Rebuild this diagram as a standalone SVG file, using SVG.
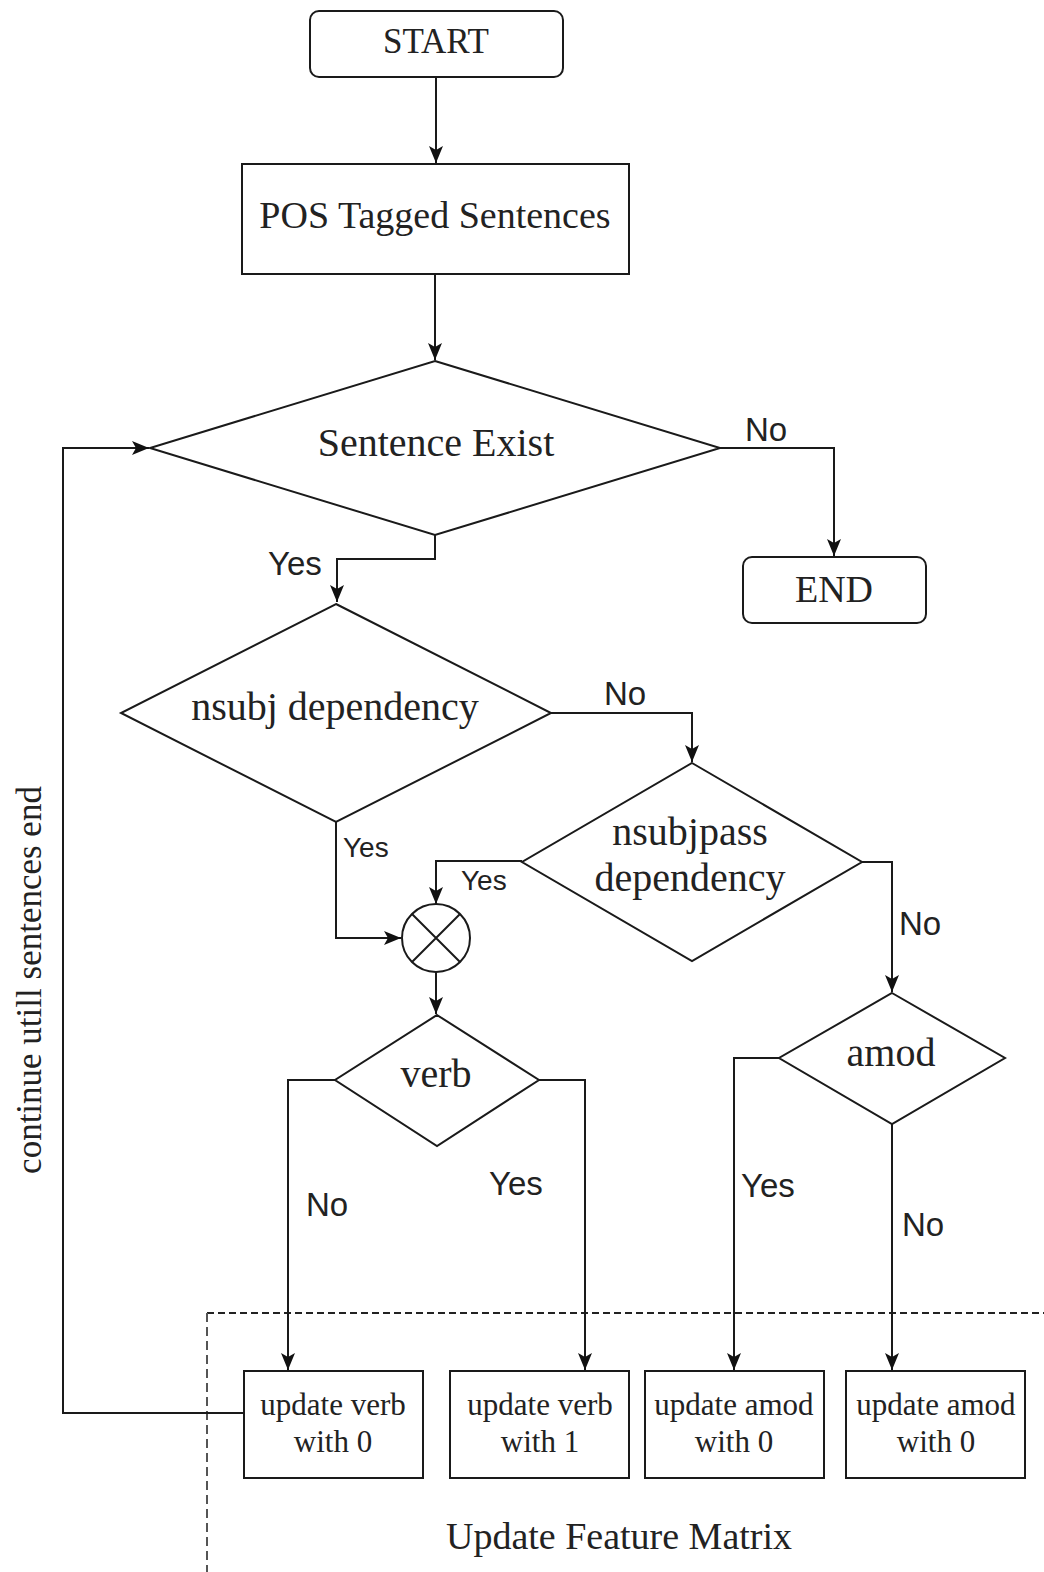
<svg xmlns="http://www.w3.org/2000/svg" width="1044" height="1572" viewBox="0 0 1044 1572">
  <defs>
    <marker id="arrow" markerUnits="userSpaceOnUse" markerWidth="18" markerHeight="16" viewBox="0 0 18 16" refX="17" refY="8" orient="auto">
      <path d="M0,1 L17,8 L0,15 L4,8 Z" fill="#111"/>
    </marker>
  </defs>
  <style>
    .shape { fill: #fff; stroke: #1a1a1a; stroke-width: 2; }
    .edge { fill: none; stroke: #1a1a1a; stroke-width: 2; }
    .node { font-family: "Liberation Serif", "Times New Roman", serif; fill: #222; text-anchor: middle; }
    .lbl { font-family: "Liberation Sans", Arial, sans-serif; fill: #222; font-size: 33px; }
    .lbl.sm { font-size: 28px; }
    .dash { fill: none; stroke: #222; stroke-width: 2; stroke-dasharray: 7 4; }
    .dash.v { stroke: #555; stroke-dasharray: 9 5; }
  </style>
  <rect width="1044" height="1572" fill="#fff"/>

  <!-- dashed "Update Feature Matrix" region -->
  <g id="feature-matrix-region">
    <path class="dash" d="M207,1313 H1044"/>
    <path class="dash v" d="M207,1313 V1572"/>
    <text class="node" x="619" y="1549" font-size="38">Update Feature Matrix</text>
  </g>

  <!-- connectors -->
  <g id="connectors">
    <path class="edge" d="M436,77 V163" marker-end="url(#arrow)"/>
    <path class="edge" d="M435,274 V360" marker-end="url(#arrow)"/>
    <path class="edge" d="M435,535 V559 H337 V602" marker-end="url(#arrow)"/>
    <path class="edge" d="M720,448 H834 V556" marker-end="url(#arrow)"/>
    <path class="edge" d="M551,713 H692 V762" marker-end="url(#arrow)"/>
    <path class="edge" d="M522,861 H436 V904" marker-end="url(#arrow)"/>
    <path class="edge" d="M336,822 V938 H401" marker-end="url(#arrow)"/>
    <path class="edge" d="M436,972 V1014" marker-end="url(#arrow)"/>
    <path class="edge" d="M862,862 H892 V992" marker-end="url(#arrow)"/>
    <path class="edge" d="M335,1080 H288 V1370" marker-end="url(#arrow)"/>
    <path class="edge" d="M539,1080 H585 V1370" marker-end="url(#arrow)"/>
    <path class="edge" d="M779,1058 H734 V1370" marker-end="url(#arrow)"/>
    <path class="edge" d="M892,1124 V1370" marker-end="url(#arrow)"/>
    <path class="edge" d="M244,1413 H63 V448 H149" marker-end="url(#arrow)"/>

    <text class="lbl" x="745" y="441">No</text>
    <text class="lbl" x="268" y="575">Yes</text>
    <text class="lbl" x="604" y="705">No</text>
    <text class="lbl sm" x="343" y="857">Yes</text>
    <text class="lbl sm" x="461" y="890">Yes</text>
    <text class="lbl" x="899" y="935">No</text>
    <text class="lbl" x="306" y="1216">No</text>
    <text class="lbl" x="489" y="1195">Yes</text>
    <text class="lbl" x="741" y="1197">Yes</text>
    <text class="lbl" x="902" y="1236">No</text>
    <text class="node" transform="translate(41,980) rotate(-90)" font-size="35" fill="#333">continue utill sentences end</text>
  </g>

  <g id="start">
    <rect class="shape" x="310" y="11" width="253" height="66" rx="9"/>
    <text class="node" x="436" y="53" font-size="35">START</text>
  </g>

  <g id="pos-tagged">
    <rect class="shape" x="242" y="164" width="387" height="110"/>
    <text class="node" x="435" y="228" font-size="38">POS Tagged Sentences</text>
  </g>

  <g id="sentence-exist">
    <polygon class="shape" points="435,361 720,448 435,535 150,448"/>
    <text class="node" x="436" y="456" font-size="40">Sentence Exist</text>
  </g>

  <g id="end">
    <rect class="shape" x="743" y="557" width="183" height="66" rx="9"/>
    <text class="node" x="834" y="602" font-size="38">END</text>
  </g>

  <g id="nsubj">
    <polygon class="shape" points="336,604 551,713 336,822 121,713"/>
    <text class="node" x="335" y="720" font-size="40">nsubj dependency</text>
  </g>

  <g id="nsubjpass">
    <polygon class="shape" points="692,763 862,862 692,961 522,862"/>
    <text class="node" x="690" y="845" font-size="40">nsubjpass</text>
    <text class="node" x="690" y="891" font-size="40">dependency</text>
  </g>

  <g id="merge">
    <circle class="shape" cx="436" cy="938" r="34"/>
    <path class="edge" d="M412,914 L460,962 M460,914 L412,962"/>
  </g>

  <g id="verb">
    <polygon class="shape" points="437,1015 539,1080 437,1146 335,1080"/>
    <text class="node" x="436" y="1087" font-size="40">verb</text>
  </g>

  <g id="amod">
    <polygon class="shape" points="892,993 1005,1058 892,1124 779,1058"/>
    <text class="node" x="891" y="1066" font-size="40">amod</text>
  </g>

  <g id="update-verb-0">
    <rect class="shape" x="244" y="1371" width="179" height="107"/>
    <text class="node" x="333" y="1415" font-size="31">update verb</text>
    <text class="node" x="333" y="1452" font-size="31">with 0</text>
  </g>

  <g id="update-verb-1">
    <rect class="shape" x="450" y="1371" width="179" height="107"/>
    <text class="node" x="540" y="1415" font-size="31">update verb</text>
    <text class="node" x="540" y="1452" font-size="31">with 1</text>
  </g>

  <g id="update-amod-0a">
    <rect class="shape" x="645" y="1371" width="179" height="107"/>
    <text class="node" x="734" y="1415" font-size="31">update amod</text>
    <text class="node" x="734" y="1452" font-size="31">with 0</text>
  </g>

  <g id="update-amod-0b">
    <rect class="shape" x="846" y="1371" width="179" height="107"/>
    <text class="node" x="936" y="1415" font-size="31">update amod</text>
    <text class="node" x="936" y="1452" font-size="31">with 0</text>
  </g>
</svg>
